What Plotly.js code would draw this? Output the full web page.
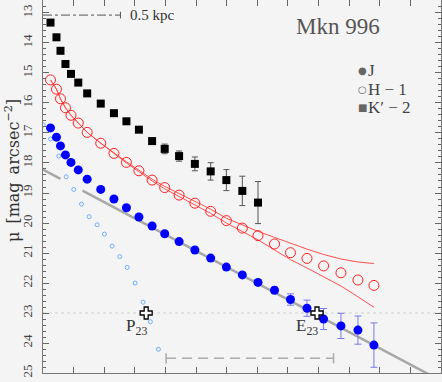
<!DOCTYPE html>
<html>
<head>
<meta charset="utf-8">
<script src="https://cdn.plot.ly/plotly-3.0.1.min.js"></script>
<style>
  html, body { margin: 0; padding: 0; background: #f4f4f4; }
  #profile { width: 442px; height: 382px; }
</style>
</head>
<body>
<div id="profile"></div>
<script>
// radial positions shared by the three bands
const radius = [0.245, 0.44, 0.571, 0.734, 0.914, 1.152, 1.443, 1.886, 2.317, 2.725, 3.133, 3.564, 3.975,
  4.445, 4.961, 5.477, 5.989, 6.511, 7.023, 7.562, 8.084, 8.623, 9.165, 9.732, 10.287, 10.809];

// J band
const muJ = [16.83, 17.14, 17.43, 17.73, 17.98, 18.23, 18.54, 18.88, 19.20, 19.49, 19.80, 20.10, 20.36,
  20.62, 20.90, 21.17, 21.47, 21.73, 21.98, 22.24, 22.55, 22.84, 23.20, 23.43, 23.57, 24.07];
const errJ = [0.02, 0.02, 0.02, 0.02, 0.02, 0.02, 0.02, 0.03, 0.03, 0.03, 0.03, 0.04, 0.04,
  0.04, 0.05, 0.05, 0.05, 0.06, 0.08, 0.10, 0.19, 0.27, 0.35, 0.42, 0.47, 0.74];

// H band (offset -1) and its envelope
const muH = [15.23, 15.54, 15.86, 16.16, 16.41, 16.67, 16.98, 17.34, 17.68, 17.98, 18.26, 18.57, 18.82,
  19.07, 19.34, 19.61, 19.92, 20.17, 20.42, 20.70, 20.99, 21.18, 21.43, 21.66, 21.90, 22.08];
const muHUpper = [15.23, 15.54, 15.86, 16.16, 16.41, 16.67, 16.98, 17.34, 17.67, 17.96, 18.24, 18.54, 18.78,
  19.02, 19.28, 19.54, 19.84, 20.07, 20.28, 20.48, 20.68, 20.87, 21.05, 21.20, 21.30, 21.35];
const muHLower = [15.23, 15.54, 15.86, 16.16, 16.41, 16.67, 16.98, 17.34, 17.69, 18.00, 18.29, 18.60, 18.86,
  19.12, 19.40, 19.68, 20.00, 20.27, 20.56, 20.90, 21.22, 21.50, 21.79, 22.10, 22.46, 22.81];

// K' band (offset -2)
const muK = [13.32, 13.81, 14.26, 14.70, 15.03, 15.32, 15.68, 16.02, 16.34, 16.61, 16.89, 17.27, 17.53,
  17.77, 18.03, 18.28, 18.57, 18.93, 19.32];
const errK = [0.02, 0.02, 0.02, 0.02, 0.02, 0.02, 0.02, 0.03, 0.03, 0.03, 0.04, 0.06, 0.16,
  0.17, 0.23, 0.29, 0.35, 0.49, 0.70];

// inner component (small open circles)
const innerR = [0.007, 0.245, 0.516, 0.757, 1.005, 1.257, 1.508, 1.769, 2.007, 2.258, 2.507, 2.748,
  3.009, 3.27, 3.508, 3.77];
const innerMu = [16.73, 17.2, 17.77, 18.46, 18.88, 19.37, 19.79, 20.06, 20.37, 20.77, 21.12, 21.48,
  22.0, 22.64, 23.29, 24.21];

// exponential fit (two segments)
const fitR = [0, 0.57, null, 1.29, 13];
const fitMu = [18.22, 18.53, null, 18.92, 25.26];

// P23 and E23
const isoR = [3.37, 8.95];
const isoMu = [23.0, 23.0];
const isoNames = ["P", "E"];

const serif = "Liberation Serif, Times New Roman, serif";

const traces = [
  {x: fitR, y: fitMu, mode: "lines", line: {color: "#a8a8a8", width: 2.5}, hoverinfo: "skip"},
  {x: innerR, y: innerMu, mode: "markers",
   marker: {symbol: "circle-open", size: 4, color: "#6fb0ff", line: {width: 1}}},
  {x: radius, y: muHUpper, mode: "lines", line: {color: "#ff5050", width: 1}},
  {x: radius, y: muHLower, mode: "lines", line: {color: "#ff5050", width: 1}},
  {x: radius, y: muH, mode: "markers",
   marker: {symbol: "circle-open", size: 10, color: "#ff2020", line: {width: 1}}},
  {x: radius.slice(0, muK.length), y: muK, mode: "markers",
   error_y: {type: "data", array: errK, color: "#555", thickness: 1, width: 3},
   marker: {symbol: "square", size: 8, color: "#000"}},
  {x: radius, y: muJ, mode: "markers",
   error_y: {type: "data", array: errJ, color: "#7a7af0", thickness: 1, width: 3.5},
   marker: {symbol: "circle", size: 9, color: "#0000ff"}},
  {x: isoR, y: isoMu, mode: "markers",
   marker: {symbol: "cross", size: 10, color: "#fff", line: {color: "#000", width: 1.3}}}
];

// paper coordinates from pixel positions of the picture
const px = v => (v - 43) / 398;
const py = v => (373 - v) / 373;

const ann = [];
isoNames.forEach((n, i) => {
  ann.push({x: isoR[i], y: isoMu[i], xref: "x", yref: "y", xanchor: "right", yanchor: "top",
    xshift: 3, yshift: -1, showarrow: false, text: n + "<sub>23</sub>",
    font: {family: serif, size: 17, color: "#333"}});
});
ann.push({x: px(338), y: py(26), xref: "paper", yref: "paper", xanchor: "center", yanchor: "middle",
  showarrow: false, text: "Mkn 996", font: {family: serif, size: 23, color: "#555"}});
ann.push({x: 2.76, y: 13.07, xref: "x", yref: "y", xanchor: "left", yanchor: "middle", showarrow: false,
  text: "0.5 kpc", font: {family: serif, size: 15, color: "#333"}});
ann.push({x: px(12), y: py(171), xref: "paper", yref: "paper", xanchor: "center", yanchor: "middle",
  showarrow: false, textangle: -90,
  text: "μ\u2002[mag\u2002arcsec<sup>−2</sup>]", font: {family: "DejaVu Serif", size: 16, color: "#333"}});

// legend drawn by hand
const legend = [["●", "J", 70], ["○", "H − 1", 89], ["■", "K′ − 2", 108]];
legend.forEach(l => {
  ann.push({x: px(362.5), y: py(l[2]), xref: "paper", yref: "paper", xanchor: "center", yanchor: "middle",
    showarrow: false, text: l[0], font: {family: "DejaVu Sans", size: 10, color: "#666"}});
  ann.push({x: px(366), y: py(l[2]), xref: "paper", yref: "paper", xanchor: "left", yanchor: "middle",
    showarrow: false, text: l[1], font: {family: serif, size: 17, color: "#444"}});
});

const shapes = [
  {type: "line", x0: 0, x1: 13, y0: 23, y1: 23, line: {color: "#cfcfcf", width: 1, dash: "dot"}, layer: "below"},
  {type: "line", x0: 0, x1: 2.53, y0: 13.07, y1: 13.07, line: {color: "#555", width: 1, dash: "dashdot"}},
  {type: "line", x0: 2.53, x1: 2.53, y0: 12.96, y1: 13.18, line: {color: "#555", width: 1}},
  {type: "line", x0: 4.02, x1: 9.49, y0: 24.51, y1: 24.51, line: {color: "#aaa", width: 1.5, dash: "10px,6px"}},
  {type: "line", x0: 4.02, x1: 4.02, y0: 24.34, y1: 24.68, line: {color: "#aaa", width: 1.5}},
  {type: "line", x0: 9.49, x1: 9.49, y0: 24.34, y1: 24.68, line: {color: "#aaa", width: 1.5}}
];

const layout = {
  width: 442, height: 382,
  margin: {l: 43, r: 1, t: 0, b: 9},
  paper_bgcolor: "#f4f4f4", plot_bgcolor: "#f4f4f4",
  showlegend: false,
  xaxis: {range: [0, 13], dtick: 1, showticklabels: false, showgrid: false, zeroline: false,
    ticks: "inside", ticklen: 6, tickcolor: "#666", showline: true, linecolor: "#777", mirror: "ticks"},
  yaxis: {range: [25, 12.567], tickvals: [13, 14, 15, 16, 17, 18, 19, 20, 21, 22, 23, 24, 25],
    tickangle: -90, showgrid: false, zeroline: false, ticks: "inside", ticklen: 6, tickcolor: "#666",
    showline: true, linecolor: "#777", mirror: "ticks", ticklabelstandoff: 5,
    tickfont: {family: serif, size: 13, color: "#444"},
    minor: {dtick: 0.2, ticks: "inside", ticklen: 3, tickcolor: "#666", showgrid: false}},
  annotations: ann,
  shapes: shapes
};

Plotly.newPlot("profile", traces, layout, {staticPlot: true});
</script>
</body>
</html>
